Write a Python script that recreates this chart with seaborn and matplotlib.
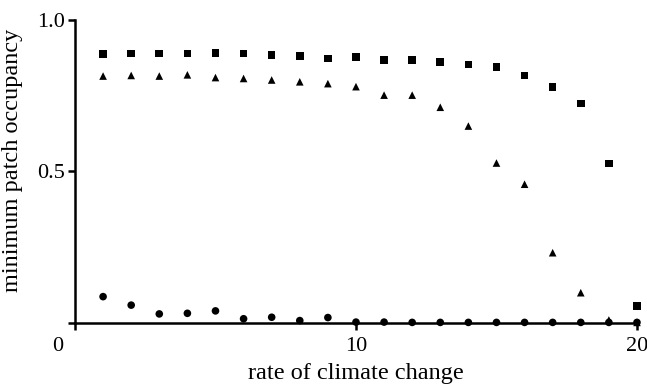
import pandas as pd
import matplotlib.pyplot as plt
import matplotlib.transforms as mtransforms
import seaborn as sns

sns.set_theme(style='ticks')
plt.rcParams['font.family'] = ['Liberation Serif', 'DejaVu Serif']

rate = list(range(1, 21))
squares = [0.887, 0.889, 0.889, 0.890, 0.891, 0.889, 0.884, 0.882, 0.873, 0.877,
           0.867, 0.867, 0.861, 0.853, 0.845, 0.817, 0.778, 0.724, 0.527, 0.056]
triangles = [0.815, 0.817, 0.815, 0.819, 0.810, 0.807, 0.802, 0.796, 0.790, 0.780,
             0.752, 0.752, 0.712, 0.650, 0.528, 0.458, 0.232, 0.100, 0.010, 0.002]
circles = [0.087, 0.059, 0.030, 0.032, 0.040, 0.014, 0.019, 0.008, 0.018, 0.003,
           0.003, 0.002, 0.002, 0.002, 0.002, 0.002, 0.002, 0.002, 0.002, 0.002]

df = pd.concat([
    pd.DataFrame({'rate': rate, 'occ': squares, 'series': 'sq'}),
    pd.DataFrame({'rate': rate, 'occ': triangles, 'series': 'tri'}),
    pd.DataFrame({'rate': rate, 'occ': circles, 'series': 'circ'}),
])

fig = plt.figure(figsize=(6.47, 3.86), dpi=100)
ax = fig.add_axes([0.1159, 0.1632, 0.8686, 0.785])

sns.scatterplot(data=df, x='rate', y='occ', style='series',
                markers={'sq': 's', 'tri': '^', 'circ': 'o'},
                color='black', s=30, linewidth=0, legend=False, ax=ax, clip_on=False)

ax.set_xlim(0, 20)
ax.set_ylim(0, 1.0)
ax.set_xticks([0, 10, 20])
ax.set_xticklabels(['0', '10', '20'])
ax.set_yticks([0, 0.5, 1.0])
ax.set_yticklabels(['', '0.5', '1.0'])
ax.tick_params(direction='out', length=5, width=1.8, labelsize=16, color='black',
               labelcolor='black', pad=2)
ax.tick_params(axis='x', pad=5)

# the "0" sits left of the corner
lab0 = ax.get_xticklabels()[0]
lab0.set_transform(lab0.get_transform() + mtransforms.ScaledTranslation(-0.17, 0, fig.dpi_scale_trans))

for side in ['top', 'right']:
    ax.spines[side].set_visible(False)
for side in ['left', 'bottom']:
    ax.spines[side].set_linewidth(1.8)
    ax.spines[side].set_color('black')

ax.set_xlabel('rate of climate change', fontsize=17.5, color='black', labelpad=5)
ax.set_ylabel('minimum patch occupancy', fontsize=17.5, color='black')
ax.yaxis.set_label_coords(-0.093, 0.537)

fig.savefig('out.png', dpi=100)
